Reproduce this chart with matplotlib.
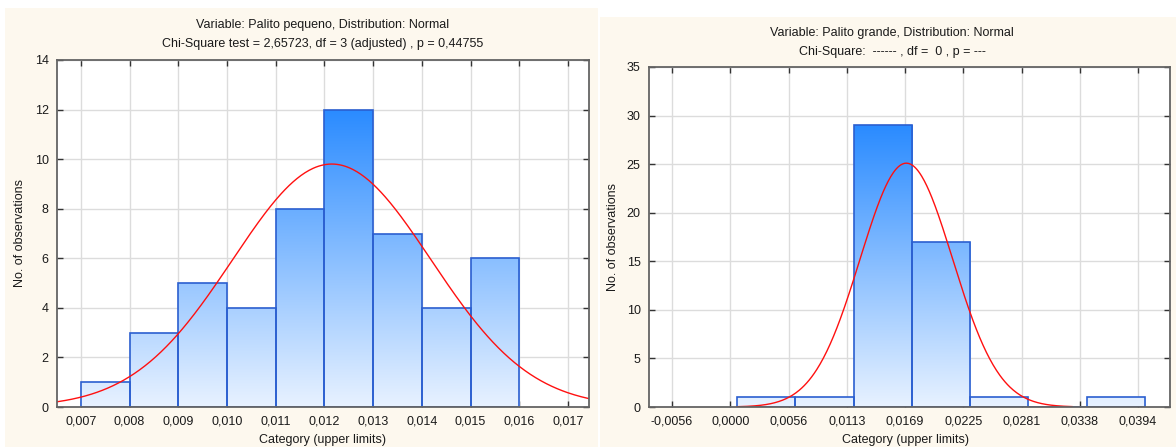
import numpy as np
import matplotlib
matplotlib.use("Agg")
import matplotlib.pyplot as plt
from matplotlib.colors import LinearSegmentedColormap
from matplotlib.patches import Rectangle

plt.rcParams['font.family'] = ['Liberation Sans', 'DejaVu Sans']

# ---------------- data ----------------
left_title1 = "Variable: Palito pequeno, Distribution: Normal"
left_title2 = "Chi-Square test = 2,65723, df = 3 (adjusted) , p = 0,44755"
left_bin_edges = [0.007, 0.008, 0.009, 0.010, 0.011, 0.012, 0.013, 0.014, 0.015, 0.016]
left_counts = [1, 3, 5, 4, 8, 12, 7, 4, 6]
left_xticks = [0.007, 0.008, 0.009, 0.010, 0.011, 0.012, 0.013, 0.014, 0.015, 0.016, 0.017]
left_xticklabels = ["0,007", "0,008", "0,009", "0,010", "0,011", "0,012", "0,013",
                    "0,014", "0,015", "0,016", "0,017"]
left_yticks = [0, 2, 4, 6, 8, 10, 12, 14]
left_fit_mean = 0.01215
left_fit_sd = 0.002035

right_title1 = "Variable: Palito grande, Distribution: Normal"
right_title2 = "Chi-Square:  ------ , df =  0 , p = ---"
right_bin_edges = [0.00065, 0.006275, 0.0119, 0.017525, 0.02315, 0.028775, 0.0344, 0.040025]
right_counts = [1, 1, 29, 17, 1, 0, 1]
right_xticks = [-0.005625, 0.0, 0.005625, 0.01125, 0.016875, 0.0225, 0.028125, 0.03375, 0.039375]
right_xticklabels = ["-0,0056", "0,0000", "0,0056", "0,0113", "0,0169", "0,0225",
                     "0,0281", "0,0338", "0,0394"]
right_yticks = [0, 5, 10, 15, 20, 25, 30, 35]
right_fit_mean = 0.0170
right_fit_sd = 0.00447
right_curve_range = (0.00065, 0.0330)

xlabel = "Category (upper limits)"
ylabel = "No. of observations"

# ---------------- style ----------------
W, H = 1176, 447
CREAM = "#fdf8ee"
TXT = "#1a1a1a"
GRID = "#dcdcdc"
SPINE = "#646464"
EDGE = "#2b5fd0"
cmap = LinearSegmentedColormap.from_list("bar", ["#e8f2ff", "#2a8bff"])

fig = plt.figure(figsize=(W / 100, H / 100), dpi=100)
fig.patch.set_facecolor("white")

# cream panels
fig.patches.append(Rectangle((5 / W, 0), (598 - 5) / W, (H - 8) / H,
                             transform=fig.transFigure, facecolor=CREAM,
                             edgecolor="none", zorder=-10))
fig.patches.append(Rectangle((600 / W, 0), (W - 600) / W, (H - 17) / H,
                             transform=fig.transFigure, facecolor=CREAM,
                             edgecolor="none", zorder=-10))


def px_axes(x0, x1, ytop, ybot):
    return fig.add_axes([x0 / W, (H - ybot) / H, (x1 - x0) / W, (ybot - ytop) / H])


def draw_panel(ax, edges, counts, xticks, xticklabels, yticks, xlim,
               mean, sd, curve_range):
    ax.set_facecolor("white")
    edges = np.asarray(edges)
    counts = np.asarray(counts, dtype=float)
    widths = np.diff(edges)
    ymax_bar = counts.max()
    bars = ax.bar(edges[:-1], counts, width=widths, align="edge",
                  facecolor="none", edgecolor=EDGE, linewidth=1.2, zorder=3)
    grad = np.linspace(0, 1, 256).reshape(-1, 1)
    for b, c in zip(bars, counts):
        if c <= 0:
            continue
        x0 = b.get_x()
        im = ax.imshow(grad, extent=[x0, x0 + b.get_width(), 0, ymax_bar],
                       origin="lower", aspect="auto", cmap=cmap, zorder=2,
                       interpolation="bilinear")
        clip = Rectangle((x0, 0), b.get_width(), c, transform=ax.transData)
        im.set_clip_path(clip)

    # fitted normal curve
    bw = widths[0]
    n = counts.sum()
    xs = np.linspace(curve_range[0], curve_range[1], 400)
    ys = n * bw / (sd * np.sqrt(2 * np.pi)) * np.exp(-0.5 * ((xs - mean) / sd) ** 2)
    ax.plot(xs, ys, color="#ff1010", linewidth=1.0, zorder=4)

    ax.set_xlim(*xlim)
    ax.set_ylim(yticks[0], yticks[-1])
    ax.set_xticks(xticks)
    ax.set_xticklabels(xticklabels)
    ax.set_yticks(yticks)
    ax.grid(True, color=GRID, linewidth=1.0, zorder=0)
    ax.set_axisbelow(True)
    ax.tick_params(direction="in", length=4, width=1, color="#333333",
                   top=True, right=True, labelsize=9, labelcolor=TXT, pad=6)
    for s in ax.spines.values():
        s.set_color(SPINE)
        s.set_linewidth(1.3)
        s.set_zorder(5)


axL = px_axes(57, 589, 60, 407)
draw_panel(axL, left_bin_edges, left_counts, left_xticks, left_xticklabels,
           left_yticks, (0.00651, 0.01743), left_fit_mean, left_fit_sd,
           (0.00651, 0.01743))

axR = px_axes(649, 1170, 67, 407)
draw_panel(axR, right_bin_edges, right_counts, right_xticks, right_xticklabels,
           right_yticks, (-0.00785, 0.04246), right_fit_mean, right_fit_sd,
           right_curve_range)


def ftext(x, y, s, **kw):
    fig.text(x / W, 1 - y / H, s, color=TXT, fontsize=9, **kw)


ftext(323, 25, left_title1, ha="center", va="center")
ftext(323, 44, left_title2, ha="center", va="center")
ftext(892, 33, right_title1, ha="center", va="center")
ftext(892, 52, right_title2, ha="center", va="center")
ftext(322, 440, xlabel, ha="center", va="center")
ftext(905, 440, xlabel, ha="center", va="center")
ftext(20, 233, ylabel, ha="center", va="center", rotation=90)
ftext(613, 237, ylabel, ha="center", va="center", rotation=90)

fig.savefig("out.png", dpi=100, facecolor=fig.get_facecolor())
